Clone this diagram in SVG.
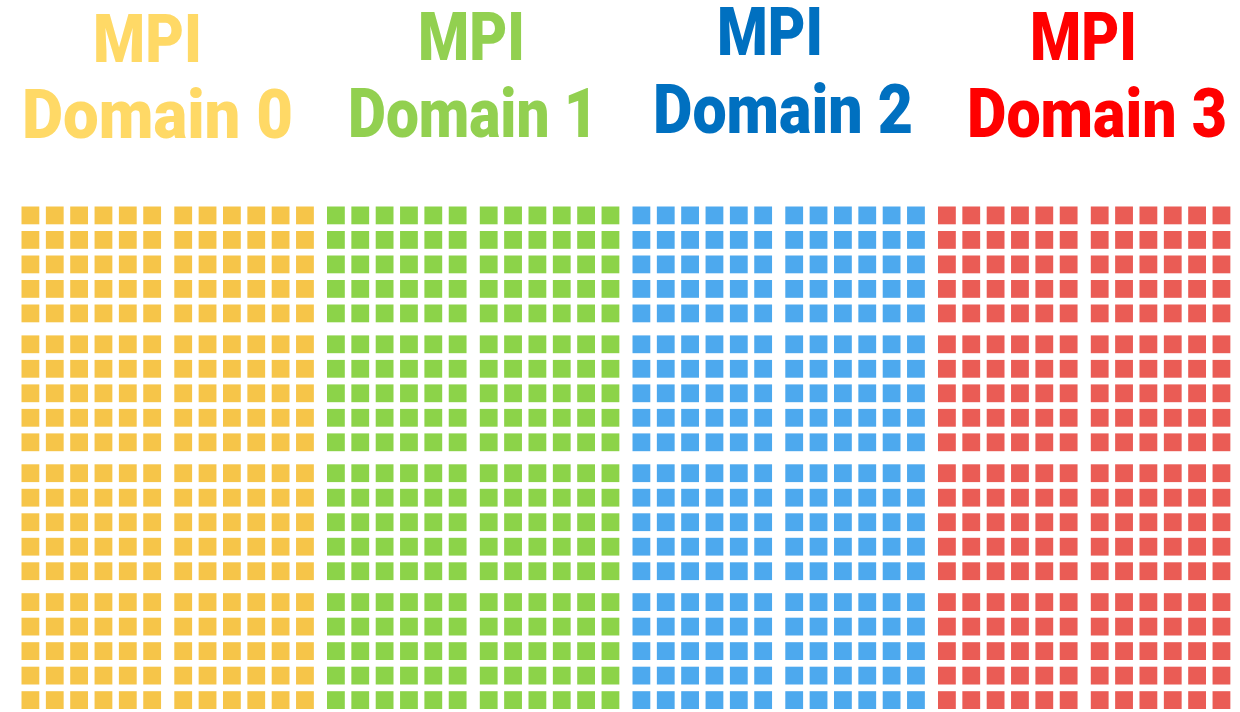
<svg xmlns="http://www.w3.org/2000/svg" xmlns:xlink="http://www.w3.org/1999/xlink" width="1240" height="712" viewBox="0 0 1240 712">
<style>
.t{font-family:Roboto,"Open Sans","Liberation Sans",sans-serif;font-weight:900;text-anchor:middle;}
.mpi{font-size:66px;}
.dom{font-size:68px;}
.c0{fill:#FFD966}.c1{fill:#92D050}.c2{fill:#0070C0}.c3{fill:#FF0000}
.s0{fill:#F6C54A}.s1{fill:#8CD34A}.s2{fill:#4EA9EE}.s3{fill:#EA5B55}
</style>
<defs>
<filter id="soft" x="-2%" y="-2%" width="104%" height="104%"><feGaussianBlur stdDeviation="0.75"/></filter>
<g id="block">
<rect x="0" y="0" width="17.8" height="17.8"/><rect x="24.35" y="0" width="17.8" height="17.8"/><rect x="48.7" y="0" width="17.8" height="17.8"/><rect x="73.05" y="0" width="17.8" height="17.8"/><rect x="97.4" y="0" width="17.8" height="17.8"/><rect x="121.75" y="0" width="17.8" height="17.8"/>
<rect x="0" y="24.5" width="17.8" height="17.8"/><rect x="24.35" y="24.5" width="17.8" height="17.8"/><rect x="48.7" y="24.5" width="17.8" height="17.8"/><rect x="73.05" y="24.5" width="17.8" height="17.8"/><rect x="97.4" y="24.5" width="17.8" height="17.8"/><rect x="121.75" y="24.5" width="17.8" height="17.8"/>
<rect x="0" y="49" width="17.8" height="17.8"/><rect x="24.35" y="49" width="17.8" height="17.8"/><rect x="48.7" y="49" width="17.8" height="17.8"/><rect x="73.05" y="49" width="17.8" height="17.8"/><rect x="97.4" y="49" width="17.8" height="17.8"/><rect x="121.75" y="49" width="17.8" height="17.8"/>
<rect x="0" y="73.5" width="17.8" height="17.8"/><rect x="24.35" y="73.5" width="17.8" height="17.8"/><rect x="48.7" y="73.5" width="17.8" height="17.8"/><rect x="73.05" y="73.5" width="17.8" height="17.8"/><rect x="97.4" y="73.5" width="17.8" height="17.8"/><rect x="121.75" y="73.5" width="17.8" height="17.8"/>
<rect x="0" y="98" width="17.8" height="17.8"/><rect x="24.35" y="98" width="17.8" height="17.8"/><rect x="48.7" y="98" width="17.8" height="17.8"/><rect x="73.05" y="98" width="17.8" height="17.8"/><rect x="97.4" y="98" width="17.8" height="17.8"/><rect x="121.75" y="98" width="17.8" height="17.8"/>
</g>
<g id="column">
<use xlink:href="#block" x="0" y="206.5"/>
<use xlink:href="#block" x="0" y="335.4"/>
<use xlink:href="#block" x="0" y="464.3"/>
<use xlink:href="#block" x="0" y="593.2"/>
</g>
</defs>
<rect width="1240" height="712" fill="#ffffff"/>

<g id="domain0">
<text class="t mpi c0" x="147.5" y="62" textLength="109" lengthAdjust="spacingAndGlyphs">MPI</text>
<text class="t dom c0" x="157.5" y="138" textLength="271" lengthAdjust="spacingAndGlyphs">Domain 0</text>
<g class="s0" filter="url(#soft)">
<use xlink:href="#column" x="21.5"/>
<use xlink:href="#column" x="174.3"/>
</g>
</g>

<g id="domain1">
<text class="t mpi c1" x="471.5" y="60" textLength="107" lengthAdjust="spacingAndGlyphs">MPI</text>
<text class="t dom c1" x="473" y="137" textLength="250" lengthAdjust="spacingAndGlyphs">Domain 1</text>
<g class="s1" filter="url(#soft)">
<use xlink:href="#column" x="327"/>
<use xlink:href="#column" x="479.8"/>
</g>
</g>

<g id="domain2">
<text class="t mpi c2" x="770" y="55" textLength="106" lengthAdjust="spacingAndGlyphs">MPI</text>
<text class="t dom c2" x="783" y="133" textLength="260" lengthAdjust="spacingAndGlyphs">Domain 2</text>
<g class="s2" filter="url(#soft)">
<use xlink:href="#column" x="632.5"/>
<use xlink:href="#column" x="785.3"/>
</g>
</g>

<g id="domain3">
<text class="t mpi c3" x="1083.5" y="60" textLength="107" lengthAdjust="spacingAndGlyphs">MPI</text>
<text class="t dom c3" x="1097" y="137" textLength="260" lengthAdjust="spacingAndGlyphs">Domain 3</text>
<g class="s3" filter="url(#soft)">
<use xlink:href="#column" x="938"/>
<use xlink:href="#column" x="1090.8"/>
</g>
</g>
</svg>
